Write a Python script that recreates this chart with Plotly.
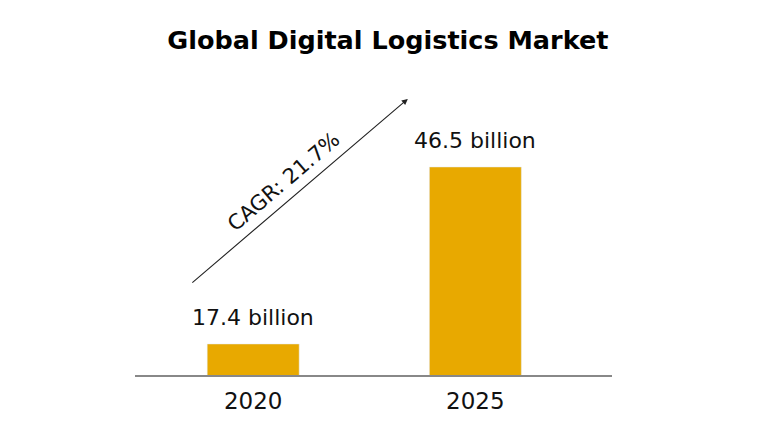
import plotly.graph_objects as go

years = ["2020", "2025"]
values = [17.4, 46.5]
value_labels = ["17.4 billion", "46.5 billion"]
title_text = "Global Digital Logistics Market"
cagr_text = "CAGR: 21.7%"

bar_color = "#E8A900"
font_family = "DejaVu Sans, sans-serif"

fig = go.Figure()
fig.add_trace(go.Bar(
    x=years, y=values, marker_color=bar_color, width=0.414,
    hoverinfo="skip",
))

for i, (v, lab) in enumerate(zip(values, value_labels)):
    fig.add_annotation(x=i, y=v, text=lab, showarrow=False,
                       xref="x", yref="y", yanchor="bottom", yshift=12,
                       font=dict(size=22, color="#111", family=font_family))

# CAGR arrow
fig.add_annotation(x=0.572, y=0.936, xref="paper", yref="paper",
                   ax=-217, ay=185, text="", showarrow=True,
                   arrowhead=2, arrowsize=1.1, arrowwidth=1.1,
                   arrowcolor="#222")
fig.add_annotation(x=0.311, y=0.655, xref="paper", yref="paper",
                   xanchor="center", yanchor="middle",
                   text=cagr_text, showarrow=False, textangle=-40.5,
                   font=dict(size=21, color="#111", family=font_family))

fig.update_layout(
    width=768, height=432,
    margin=dict(l=135, r=156, t=80, b=57),
    paper_bgcolor="white", plot_bgcolor="white",
    showlegend=False,
    title=dict(text="<b>" + title_text + "</b>", x=0.505, xanchor="center",
               y=0.907, yanchor="middle",
               font=dict(size=25.5, color="#000", family=font_family)),
    xaxis=dict(type="category", range=[-0.532, 1.615], showgrid=False,
               showline=True, linecolor="#888", linewidth=1.5,
               ticks="", tickfont=dict(size=23, color="#111", family=font_family),
               ticklabelstandoff=5, zeroline=False, automargin=False),
    yaxis=dict(range=[12.3, 60.8], visible=False, showgrid=False,
               zeroline=False, automargin=False),
)

fig.write_html("out.html")
